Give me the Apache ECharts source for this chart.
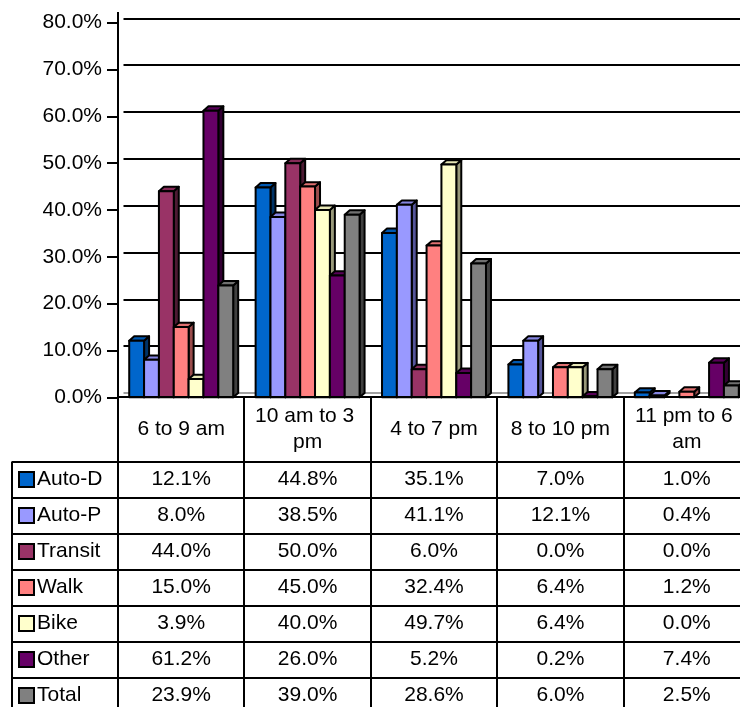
<!DOCTYPE html>
<html>
<head>
<meta charset="utf-8">
<title>Trips by time of day and mode</title>
<script src="https://cdn.jsdelivr.net/npm/echarts/dist/echarts.min.js"></script>
<style>
  html, body { margin: 0; padding: 0; background: #fff; }
  #chart { width: 740px; height: 707px; }
</style>
</head>
<body>
<div id="chart"></div>
<script>
// Time-of-day periods (columns of the table)
const periods = ['6 to 9 am', '10 am to 3 pm', '4 to 7 pm', '8 to 10 pm', '11 pm to 6 am'];

// Travel modes (rows of the table)
const modes = ['Auto-D', 'Auto-P', 'Transit', 'Walk', 'Bike', 'Other', 'Total'];

// Share of each mode's trips in each period, percent
const autoD   = [12.1, 44.8, 35.1, 7.0, 1.0];
const autoP   = [8.0, 38.5, 41.1, 12.1, 0.4];
const transit = [44.0, 50.0, 6.0, 0.0, 0.0];
const walk    = [15.0, 45.0, 32.4, 6.4, 1.2];
const bike    = [3.9, 40.0, 49.7, 6.4, 0.0];
const other   = [61.2, 26.0, 5.2, 0.2, 7.4];
const total   = [23.9, 39.0, 28.6, 6.0, 2.5];

const seriesValues = [autoD, autoP, transit, walk, bike, other, total];

// Value axis range
const axisMin = 0;
const axisMax = 80;
const axisStep = 10;

// ---- styling ----
const FONT = '"Liberation Sans", Arial, sans-serif';
const FONT_SIZE = 21;
const FRONT = ['#0066CC', '#9999FF', '#993366', '#FF8080', '#FFFFCC', '#660066', '#808080'];
const TOP   = ['#0058B0', '#8585E0', '#862B58', '#E07070', '#E6E6B5', '#580058', '#707070'];
const SIDE  = ['#003366', '#55559A', '#4D1A33', '#9A4C4C', '#99997A', '#330033', '#404040'];
const DEPTH_X = 5;      // oblique depth of the columns, px
const DEPTH_Y = 4.4;
const BAR_PITCH = 0.1175; // column width as a share of the category band
const HEADER_H = 64.5;  // table header row height
const ROW_H = 36;       // table body row height
const TABLE_LEFT = 12;
const PLOT_LEFT = 118;
const PLOT_WIDTH = 632;

const chart = echarts.init(document.getElementById('chart'), null, { renderer: 'canvas' });

function columnSeries(idx) {
  return {
    type: 'custom',
    name: modes[idx],
    xAxisIndex: 0,
    yAxisIndex: 0,
    clip: false,
    data: seriesValues[idx].map((v, c) => [c, v]),
    renderItem: function (params, api) {
      const v = api.value(1);
      if (!(v > 0)) return null;
      const base = api.coord([api.value(0), axisMin]);
      const top = api.coord([api.value(0), v]);
      const band = api.size([1, 0])[0];
      const pitch = band * BAR_PITCH;
      const x0 = base[0] + (idx - modes.length / 2) * pitch;
      const x1 = x0 + pitch;
      const yb = base[1];
      const yt = top[1];
      const stroke = { stroke: '#000', lineWidth: 2, lineJoin: 'round' };
      return {
        type: 'group',
        children: [
          {
            type: 'polygon',
            shape: { points: [[x1, yt], [x1 + DEPTH_X, yt - DEPTH_Y], [x1 + DEPTH_X, yb - DEPTH_Y], [x1, yb]] },
            style: Object.assign({ fill: SIDE[idx] }, stroke)
          },
          {
            type: 'polygon',
            shape: { points: [[x0, yt], [x0 + DEPTH_X, yt - DEPTH_Y], [x1 + DEPTH_X, yt - DEPTH_Y], [x1, yt]] },
            style: Object.assign({ fill: TOP[idx] }, stroke)
          },
          {
            type: 'rect',
            shape: { x: x0, y: yt, width: pitch, height: yb - yt },
            style: Object.assign({ fill: FRONT[idx] }, stroke)
          }
        ]
      };
    }
  };
}

const gridColors = ['#A0A0A0'];
for (let v = axisMin + axisStep; v <= axisMax; v += axisStep) gridColors.push('#000');

chart.setOption({
  animation: false,
  grid: [
    // front plane: columns and the labelled value axis
    { left: PLOT_LEFT, width: PLOT_WIDTH, top: 22.7, bottom: 309.7, outerBoundsMode: 'none', containLabel: false },
    // back wall: gridlines, pushed back by the depth offset
    { left: PLOT_LEFT + 5.5, width: PLOT_WIDTH + 20, top: 22.7 - DEPTH_Y, bottom: 309.7 + DEPTH_Y, outerBoundsMode: 'none', containLabel: false }
  ],
  xAxis: [
    {
      gridIndex: 0, type: 'category', data: periods, boundaryGap: true,
      axisLine: { show: false }, axisTick: { show: false }, axisLabel: { show: false }
    },
    { gridIndex: 1, type: 'value', show: false }
  ],
  yAxis: [
    {
      gridIndex: 0, type: 'value', min: axisMin, max: axisMax, interval: axisStep,
      axisLine: { show: true, lineStyle: { color: '#000', width: 2 } },
      axisTick: { show: true, inside: false, length: 11, lineStyle: { color: '#000', width: 2 } },
      axisLabel: {
        show: true, margin: 16, color: '#000', fontFamily: FONT, fontSize: FONT_SIZE,
        formatter: v => v.toFixed(1) + '%'
      },
      splitLine: { show: false }
    },
    {
      gridIndex: 1, type: 'value', min: axisMin, max: axisMax, interval: axisStep,
      axisLine: { show: false }, axisTick: { show: false }, axisLabel: { show: false },
      splitLine: { show: true, lineStyle: { color: gridColors, width: 2 } }
    }
  ],
  series: modes.map((m, i) => columnSeries(i))
});

// ---- data table under the plot, laid out from the category axis ----
function buildTable() {
  const els = [];
  const c0 = chart.convertToPixel({ xAxisIndex: 0 }, 0);
  const c1 = chart.convertToPixel({ xAxisIndex: 0 }, 1);
  const band = c1 - c0;
  const plotLeft = c0 - band / 2;
  const baseY = Math.round(chart.convertToPixel({ yAxisIndex: 0 }, axisMin));
  const topY = Math.round(chart.convertToPixel({ yAxisIndex: 0 }, axisMax)) - 11;
  const bodyTop = baseY + HEADER_H;
  const bottomY = bodyTop + modes.length * ROW_H;
  const rightX = plotLeft + band * periods.length;
  const line = (x1, y1, x2, y2) => ({
    type: 'line', silent: true, z: 10,
    shape: { x1, y1, x2, y2 },
    style: { stroke: '#000', lineWidth: 2 }
  });
  const text = (t, x, y, align, extra) => ({
    type: 'text', silent: true, z: 11, x, y,
    style: Object.assign({
      text: t, fill: '#000', fontFamily: FONT, fontSize: FONT_SIZE,
      align, verticalAlign: 'middle'
    }, extra || {})
  });

  // grid lines of the table
  els.push(line(plotLeft, topY, plotLeft, bottomY + 4));
  els.push(line(plotLeft, baseY, rightX, baseY));
  for (let r = 0; r <= modes.length; r++) {
    const y = Math.round(bodyTop + r * ROW_H);
    els.push(line(TABLE_LEFT, y, rightX, y));
  }
  els.push(line(TABLE_LEFT, bodyTop, TABLE_LEFT, bottomY + 4));
  for (let c = 1; c <= periods.length; c++) {
    const x = Math.round(plotLeft + c * band);
    els.push(line(x, baseY, x, bottomY + 4));
  }

  // header: period names
  periods.forEach((p, c) => {
    const cx = plotLeft + (c + 0.5) * band;
    els.push(text(p, cx, baseY + HEADER_H / 2, 'center', { width: 112, overflow: 'break', lineHeight: 26.5 }));
  });

  // body: legend keys, mode names and values
  modes.forEach((m, r) => {
    const cy = bodyTop + (r + 0.5) * ROW_H;
    els.push({
      type: 'rect', silent: true, z: 11,
      shape: { x: TABLE_LEFT + 7, y: cy - 7.5, width: 15, height: 15 },
      style: { fill: FRONT[r], stroke: '#000', lineWidth: 2 }
    });
    els.push(text(m, TABLE_LEFT + 25, cy, 'left'));
    seriesValues[r].forEach((v, c) => {
      const cx = plotLeft + (c + 0.5) * band;
      els.push(text(v.toFixed(1) + '%', cx, cy, 'center'));
    });
  });

  chart.setOption({ graphic: { elements: els } });
}
buildTable();
</script>
</body>
</html>
